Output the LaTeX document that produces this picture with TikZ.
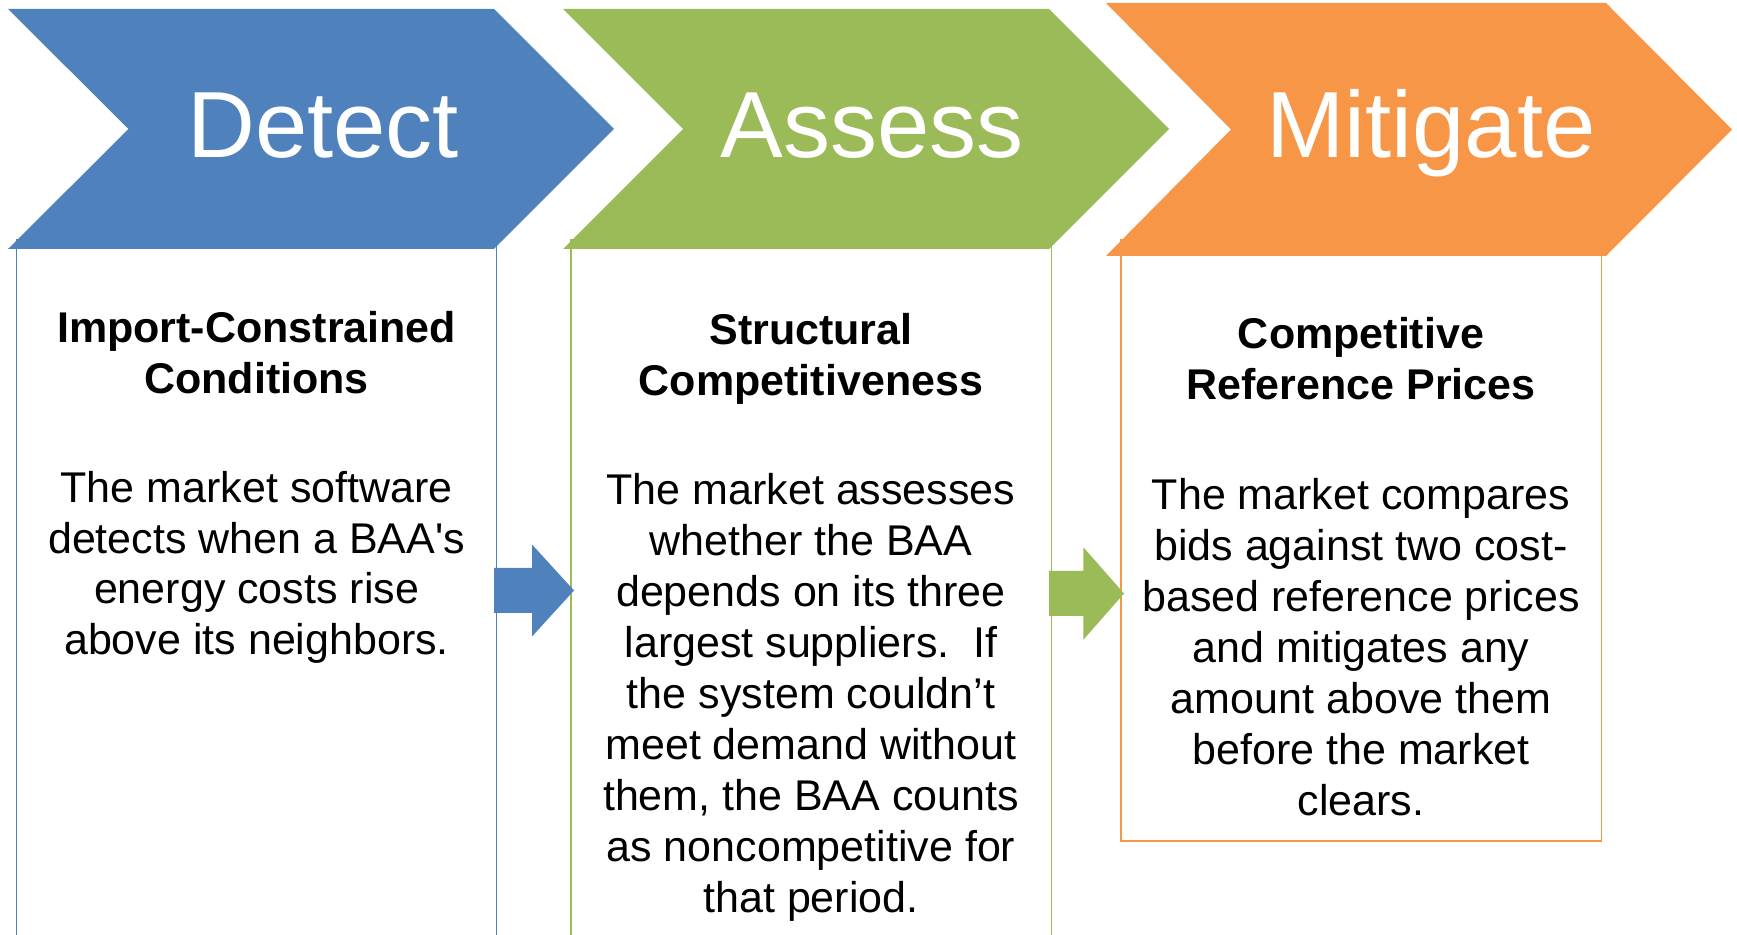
\documentclass[tikz,border=0pt]{standalone}
\usepackage{fontspec}
\setmainfont{Liberation Sans}
\usepackage{tikz}

\definecolor{detectblue}{HTML}{4F81BD}
\definecolor{assessgreen}{HTML}{9BBB59}
\definecolor{mitigateorange}{HTML}{F79646}

% multi-line nodes sit on the baseline of their last line
\tikzset{
	stagename/.style={text=white, inner sep=0pt, anchor=base, font=\fontsize{47}{56}\selectfont},
	heading/.style={inner sep=0pt, anchor=base, align=center, font=\bfseries\fontsize{21.5}{25.5}\selectfont},
	bodytext/.style={inner sep=0pt, anchor=base, align=center, font=\fontsize{21.5}{25.5}\selectfont},
	column/.style={line width=0.75pt},
}

\begin{document}
\begin{tikzpicture}[x=0.5pt,y=-0.5pt]

		\clip (0,0) rectangle (1737,935);
		\fill[white] (0,0) rectangle (1737,935);

		% columns under the chevrons
		\draw[column, detectblue] (16.6,240) rectangle (496.6,960);
		\draw[column, assessgreen] (571,240) rectangle (1051.5,960);
		\draw[column, mitigateorange] (1121,240) rectangle (1601.6,841);

		% chevrons
		\fill[detectblue] (8,9) -- (494,9) -- (614,129) -- (494,249) -- (8,249) -- (128.5,129) -- cycle;
		\fill[assessgreen] (563,9) -- (1049,9) -- (1169,129) -- (1049,249) -- (563,249) -- (683,129) -- cycle;
		\fill[mitigateorange] (1106,3) -- (1606,3) -- (1732,129.5) -- (1606,256) -- (1106,256) -- (1231,129.5) -- cycle;

		\node[stagename] (detect) at (323,158) {Detect};
		\node[stagename] (assess) at (872,158) {Assess};
		\node[stagename] (mitigate) at (1431,158) {Mitigate};

		% column texts
		\node[heading] (detecthead) at (256.6,394) {Import-Constrained\\Conditions};
		\node[bodytext] (detectbody) at (256.6,655) {The market software\\detects when a BAA\textquotesingle s\\energy costs rise\\above its neighbors.};

		\node[heading] (assesshead) at (811,396) {Structural\\Competitiveness};
		\node[bodytext] (assessbody) at (811,912) {The market assesses\\whether the BAA\\depends on its three\\largest suppliers.\ \ If\\the system couldn’t\\meet demand without\\them, the BAA counts\\as noncompetitive for\\that period.};

		\node[heading] (mitigatehead) at (1361,400) {Competitive\\Reference Prices};
		\node[bodytext] (mitigatebody) at (1361,815) {The market compares\\bids against two cost-\\based reference prices\\and mitigates any\\amount above them\\before the market\\clears.};

		% block arrows between the columns
		\coordinate (gapA) at (494,590.5);
		\coordinate (gapB) at (1049,593.5);
		\fill[detectblue] (gapA) ++(0,-22.5) -- ++(38,0) -- ++(0,-23.5) -- ++(42,46) -- ++(-42,46) -- ++(0,-23.5) -- ++(-38,0) -- cycle;
		\fill[assessgreen] (gapB) ++(0,-22.5) -- ++(34.3,0) -- ++(0,-23.8) -- ++(40.7,46.3) -- ++(-40.7,46.3) -- ++(0,-23.8) -- ++(-34.3,0) -- cycle;

	\end{tikzpicture}
\end{document}
